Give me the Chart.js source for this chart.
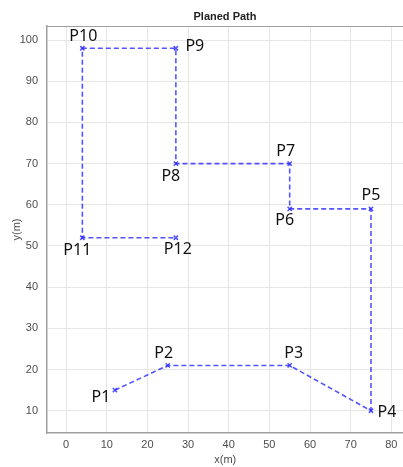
<!DOCTYPE html>
<html>
<head>
<meta charset="utf-8">
<script src="https://cdn.jsdelivr.net/npm/chart.js@4"></script>
<style>
  html, body { margin: 0; padding: 0; background: #fff; overflow: hidden; }
  #wrap { width: 409px; height: 467px; }
</style>
</head>
<body>
<div id="wrap"><canvas id="pathChart"></canvas></div>
<script>
// waypoint names and coordinates
const pointNames = ['P1', 'P2', 'P3', 'P4', 'P5', 'P6', 'P7', 'P8', 'P9', 'P10', 'P11', 'P12'];
const xValues = [12, 25, 55, 75, 75, 55, 55, 27, 27, 4, 4, 27];
const yValues = [15, 21, 21, 10, 59, 59, 70, 70, 98, 98, 52, 52];
const xTicks = [0, 10, 20, 30, 40, 50, 60, 70, 80];
const yTicks = [10, 20, 30, 40, 50, 60, 70, 80, 90, 100];
const chartTitle = 'Planed Path';

// label offsets (px) from each point
const labelOffsets = {
    P1: [-14, 7], P2: [-4, -12], P3: [4, -12], P4: [16, 2],
    P5: [0, -13], P6: [-5, 12], P7: [-4, -12], P8: [-5, 13],
    P9: [19, -2], P10: [1, -12], P11: [-5, 13], P12: [2, 12]
};

const pathData = xValues.map((x, i) => ({ x: x, y: yValues[i] }));

const lineColor = 'rgba(40, 40, 255, 0.8)';
const gridColor = '#e6e6e6';
const axisColor = '#a0a0a0';
const textGrey = '#4d4d4d';

// draw the point names next to the markers
const pointLabels = {
    id: 'pointLabels',
    afterDatasetsDraw(chart) {
        const ctx = chart.ctx;
        const meta = chart.getDatasetMeta(0);
        ctx.save();
        ctx.font = '16px "Noto Sans"';
        ctx.fillStyle = '#111';
        ctx.textAlign = 'center';
        ctx.textBaseline = 'middle';
        meta.data.forEach((pt, i) => {
            const name = pointNames[i];
            const off = labelOffsets[name] || [0, -12];
            ctx.fillText(name, pt.x + off[0], pt.y + off[1]);
        });
        ctx.restore();
    }
};

// box top line + title centred over the axes (matlab style)
const boxTop = {
    id: 'boxTop',
    beforeDatasetsDraw(chart) {
        const a = chart.chartArea;
        const ctx = chart.ctx;
        ctx.save();
        ctx.strokeStyle = axisColor;
        ctx.lineWidth = 1;
        ctx.beginPath();
        ctx.moveTo(a.left, a.top + 0.5);
        ctx.lineTo(a.right, a.top + 0.5);
        ctx.stroke();
        ctx.font = 'bold 11px Arial, "Liberation Sans"';
        ctx.fillStyle = '#222';
        ctx.textAlign = 'center';
        ctx.textBaseline = 'middle';
        ctx.fillText(chartTitle, (a.left + 403) / 2, 17);
        ctx.restore();
    }
};

function keepTicks(list) {
    return function(scale) {
        scale.ticks = list.map(v => ({ value: v }));
    };
}

new Chart(document.getElementById('pathChart'), {
    type: 'scatter',
    data: {
        datasets: [{
            data: pathData,
            showLine: true,
            borderColor: lineColor,
            borderWidth: 1.6,
            borderDash: [5, 3],
            pointStyle: 'crossRot',
            pointRadius: 3,
            pointBorderColor: lineColor,
            pointBorderWidth: 1.5,
            tension: 0
        }]
    },
    options: {
        responsive: true,
        maintainAspectRatio: false,
        animation: false,
        layout: { padding: { top: 26, right: 0, bottom: 0, left: 0 } },
        plugins: {
            legend: { display: false },
            tooltip: { enabled: false },
            title: { display: false }
        },
        scales: {
            x: {
                type: 'linear',
                min: -4.7,
                max: 83,
                afterBuildTicks: keepTicks(xTicks),
                afterFit(scale) { scale.height = 34; },
                grid: { color: gridColor, drawTicks: false },
                border: { color: axisColor, width: 1.5 },
                ticks: {
                    color: textGrey,
                    padding: 5,
                    font: { family: 'Arial, "Liberation Sans"', size: 11 }
                },
                title: {
                    display: true,
                    text: 'x(m)',
                    color: textGrey,
                    padding: { top: 0, bottom: 0 },
                    font: { family: 'Arial, "Liberation Sans"', size: 11 }
                }
            },
            y: {
                type: 'linear',
                min: 4.6,
                max: 103.4,
                afterBuildTicks: keepTicks(yTicks),
                afterFit(scale) { scale.width = 47; },
                grid: { color: gridColor, drawTicks: false },
                border: { color: axisColor, width: 1.5 },
                ticks: {
                    color: textGrey,
                    padding: 9,
                    font: { family: 'Arial, "Liberation Sans"', size: 11 }
                },
                title: {
                    display: true,
                    text: 'y(m)',
                    color: textGrey,
                    padding: { top: 10, bottom: 4 },
                    font: { family: 'Arial, "Liberation Sans"', size: 11 }
                }
            }
        }
    },
    plugins: [boxTop, pointLabels]
});
</script>
</body>
</html>
